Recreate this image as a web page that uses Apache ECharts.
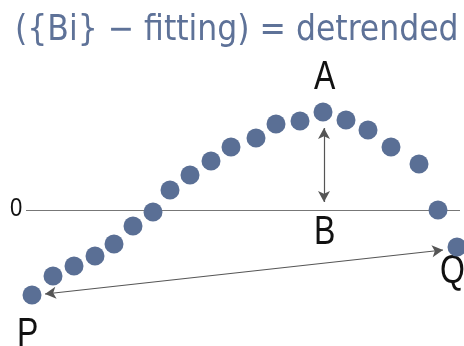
<!DOCTYPE html>
<html>
<head>
<meta charset="utf-8">
<style>
  html, body { margin: 0; padding: 0; background: #fff; }
  #main { width: 464px; height: 346px; }
</style>
<script src="https://cdn.jsdelivr.net/npm/echarts@6/dist/echarts.min.js"></script>
</head>
<body>
<div id="main"></div>
<script>
// detrended values {Bi} - fitting
var xValues = [32, 53, 74, 95, 114, 133, 153, 170, 190, 211, 231, 256, 276, 300, 323, 346, 368, 391, 419, 438, 457];
var yValues = [-85, -66, -56, -46, -34, -16, -2, 20, 35, 49, 63, 72, 86, 89, 98, 90, 80, 63, 46, 0, -37];

// zero reference line and the two arrows (A-B and P-Q)
var zeroLine = [[26, 0], [460, 0]];
var arrowAB = [[324, 82], [324, 8]];
var arrowPQ = [[45, -84], [443, -40]];

var points = xValues.map(function (x, i) { return [x, yValues[i]]; });

var myChart = echarts.init(document.getElementById('main'));

function seg(pair) {
  return [{ coord: pair[0] }, { coord: pair[1] }];
}

var labelFont = '"Liberation Sans", Arial, sans-serif';

var option = {
  animation: false,
  backgroundColor: '#fff',
  title: {
    text: '({Bi} \u2212 fitting) = detrended',
    left: 10,
    top: 8,
    textStyle: {
      fontFamily: '"DejaVu Sans Condensed", "DejaVu Sans", sans-serif',
      fontWeight: 'normal',
      fontSize: 35,
      color: '#5e7298'
    }
  },
  grid: { left: 0, right: 0, top: 0, bottom: 0 },
  xAxis: { type: 'value', min: 0, max: 464, show: false },
  yAxis: { type: 'value', min: -136, max: 210, show: false },
  series: [
    {
      type: 'scatter',
      data: points,
      symbolSize: 19,
      itemStyle: { color: '#5a6f95', opacity: 1 },
      z: 3,
      markLine: {
        silent: true,
        z: 2,
        label: { show: false },
        symbol: ['none', 'none'],
        lineStyle: { color: '#777', width: 1, type: 'solid' },
        data: [seg(zeroLine)]
      }
    },
    {
      type: 'line',
      data: [],
      markLine: {
        silent: true,
        label: { show: false },
        symbol: ['arrow', 'arrow'],
        symbolSize: [9, 11],
        lineStyle: { color: '#555', width: 1.2, type: 'solid' },
        data: [seg(arrowAB), seg(arrowPQ)]
      }
    }
  ],
  graphic: [
    { type: 'text', x: 10, y: 196, scaleX: 0.85, style: { text: '0', font: '26px ' + labelFont, fill: '#111' } },
    { type: 'text', x: 314, y: 58, scaleX: 0.8, style: { text: 'A', font: '40px ' + labelFont, fill: '#111' } },
    { type: 'text', x: 314, y: 213, scaleX: 0.8, style: { text: 'B', font: '40px ' + labelFont, fill: '#111' } },
    { type: 'text', x: 440, y: 252, scaleX: 0.8, style: { text: 'Q', font: '40px ' + labelFont, fill: '#111' } },
    { type: 'text', x: 17, y: 315, scaleX: 0.8, style: { text: 'P', font: '40px ' + labelFont, fill: '#111' } }
  ]
};

myChart.setOption(option);
</script>
</body>
</html>
